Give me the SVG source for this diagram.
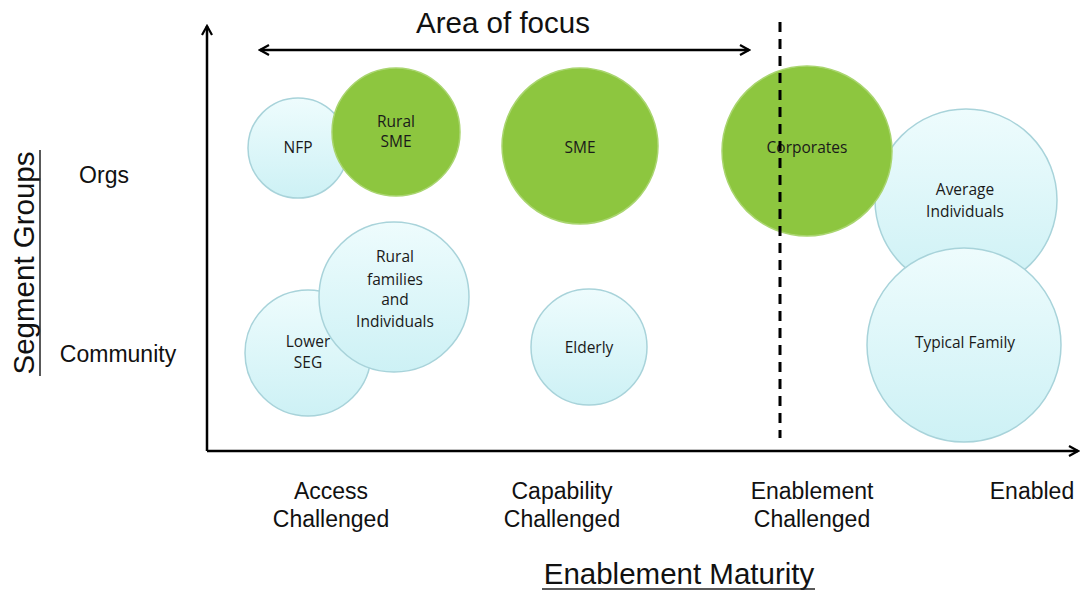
<svg xmlns="http://www.w3.org/2000/svg" width="1083" height="592" viewBox="0 0 1083 592">
  <defs>
    <linearGradient id="blueFill" x1="0" y1="0" x2="0" y2="1">
      <stop offset="0" stop-color="#eefcfd"/>
      <stop offset="1" stop-color="#cdf1f5"/>
    </linearGradient>
    <marker id="arrow" viewBox="0 0 12 12" refX="10" refY="6" markerWidth="12" markerHeight="12" markerUnits="userSpaceOnUse" orient="auto-start-reverse">
      <path d="M1,1 L10,6 L1,11" fill="none" stroke="#000" stroke-width="2.2"/>
    </marker>
  </defs>
  <style>
    .blue { fill: url(#blueFill); stroke: #a8d3da; stroke-width: 1.5; }
    .green { fill: #8dc63f; stroke: #a9d56f; stroke-width: 1.5; }
    .ctext { font-family: "Open Sans", "Noto Sans", sans-serif; font-size: 15.5px; fill: #1a1a1a; text-anchor: middle; }
    .label { font-family: "Liberation Sans", Arial, sans-serif; font-size: 23px; fill: #111; text-anchor: middle; }
    .title { font-family: "Liberation Sans", Arial, sans-serif; font-size: 29.5px; fill: #111; text-anchor: middle; }
    .axis { stroke: #000; stroke-width: 2.5; fill: none; }
  </style>
  <rect width="1083" height="592" fill="#fff"/>

  <!-- axes and range markers -->
  <g id="connectors">
    <line class="axis" x1="207" y1="451" x2="207" y2="26" marker-end="url(#arrow)"/>
    <line class="axis" x1="207" y1="451" x2="1078" y2="451" marker-end="url(#arrow)"/>
    <line class="axis" x1="260" y1="50" x2="749" y2="50" marker-start="url(#arrow)" marker-end="url(#arrow)"/>
  </g>

  <g id="nfp">
    <circle class="blue" cx="298" cy="148" r="50"/>
    <text class="ctext" x="298" y="153">NFP</text>
  </g>
  <g id="rural-sme">
    <circle class="green" cx="396" cy="132" r="64"/>
    <text class="ctext" x="396" y="127">Rural</text>
    <text class="ctext" x="396" y="147">SME</text>
  </g>
  <g id="sme">
    <circle class="green" cx="580" cy="146" r="78"/>
    <text class="ctext" x="580" y="153">SME</text>
  </g>
  <g id="average-individuals">
    <circle class="blue" cx="966" cy="200" r="91"/>
    <text class="ctext" x="965" y="195">Average</text>
    <text class="ctext" x="965" y="217">Individuals</text>
  </g>
  <g id="corporates">
    <circle class="green" cx="807" cy="151" r="85"/>
    <text class="ctext" x="807" y="153">Corporates</text>
  </g>
  <g id="typical-family">
    <circle class="blue" cx="964" cy="345" r="97"/>
    <text class="ctext" x="965" y="348">Typical Family</text>
  </g>
  <g id="lower-seg">
    <circle class="blue" cx="308" cy="353" r="63"/>
    <text class="ctext" x="308" y="347">Lower</text>
    <text class="ctext" x="308" y="368">SEG</text>
  </g>
  <g id="rural-families">
    <circle class="blue" cx="394" cy="297" r="75"/>
    <text class="ctext" x="395" y="262">Rural</text>
    <text class="ctext" x="395" y="285">families</text>
    <text class="ctext" x="395" y="305">and</text>
    <text class="ctext" x="395" y="327">Individuals</text>
  </g>
  <g id="elderly">
    <circle class="blue" cx="589" cy="347" r="58"/>
    <text class="ctext" x="589" y="353">Elderly</text>
  </g>

  <!-- boundary of the focus area -->
  <line x1="780" y1="22" x2="780" y2="438" stroke="#000" stroke-width="3" stroke-dasharray="10,7"/>

  <!-- titles and axis labels -->
  <text class="title" x="503" y="33">Area of focus</text>
  <text class="label" x="104" y="183">Orgs</text>
  <text class="label" x="118" y="362">Community</text>
  <text class="title" transform="translate(34,263) rotate(-90)">Segment Groups</text>
  <line x1="40" y1="150" x2="40" y2="376" stroke="#222" stroke-width="1.5"/>

  <text class="label" x="331" y="499">Access</text>
  <text class="label" x="331" y="527">Challenged</text>
  <text class="label" x="562" y="499">Capability</text>
  <text class="label" x="562" y="527">Challenged</text>
  <text class="label" x="812" y="499">Enablement</text>
  <text class="label" x="812" y="527">Challenged</text>
  <text class="label" x="1032" y="499">Enabled</text>

  <text class="title" x="679" y="584">Enablement Maturity</text>
  <line x1="542" y1="589" x2="815" y2="589" stroke="#222" stroke-width="1.5"/>
</svg>
